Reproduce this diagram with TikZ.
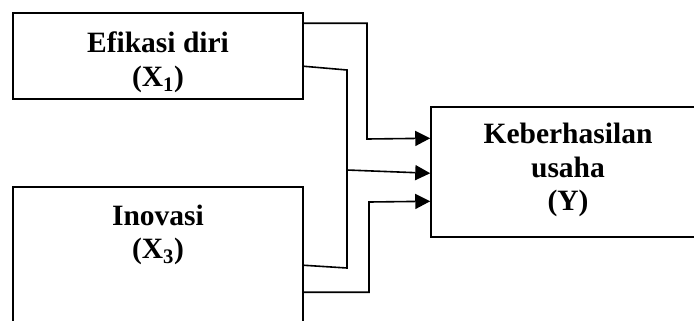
\documentclass[tikz,border=0pt]{standalone}
\usepackage{fontspec}
\setmainfont{Liberation Serif}
\usetikzlibrary{arrows.meta}
\tikzset{
  box/.style={draw=black, line width=1.5bp, inner sep=0pt, fill=none},
  lbl/.style={anchor=base, inner sep=0pt, font=\bfseries\fontsize{29.5bp}{34bp}\selectfont},
  conn/.style={line width=1.6bp, draw=black},
  arr/.style={conn, -{Triangle[length=15bp,width=15bp]}}
}
\begin{document}
\begin{tikzpicture}[x=1bp,y=-1bp]
\useasboundingbox (0,0) rectangle (694,320);
\clip (0,0) rectangle (694,320);
% boxes
\node[box, minimum width=290bp, minimum height=86bp] (b1) at (158,56) {};
\node[box, minimum width=290bp, minimum height=143bp] (b2) at (158,258.5) {};
\node[box, minimum width=269bp, minimum height=130bp] (b3) at (565.5,172) {};
% texts
\node[lbl] (t1a) at (158,52) {Efikasi diri};
\node[lbl] (t1b) at (158,86) {(X\textsubscript{1})};
\node[lbl] (t2a) at (158,225) {Inovasi};
\node[lbl] (t2b) at (158,258) {(X\textsubscript{3})};
\node[lbl] (t3a) at (568,143) {Keberhasilan};
\node[lbl] (t3b) at (568,177) {usaha};
\node[lbl] (t3c) at (568,210) {(Y)};
% connectors
\coordinate (j) at (347,170);
\draw[arr] ([yshift=-11bp]b1.north east) -| (367,139) -- ([yshift=-32bp]b3.north west);
\draw[conn] ([yshift=-54bp]b1.north east) -- (347,70) -- (347,268) -- ([yshift=-79bp]b2.north east);
\draw[arr] (j) -- ([yshift=-67bp]b3.north west);
\draw[arr] ([yshift=-106bp]b2.north east) -| (369,202) -- ([yshift=-95bp]b3.north west);
\end{tikzpicture}
\end{document}
